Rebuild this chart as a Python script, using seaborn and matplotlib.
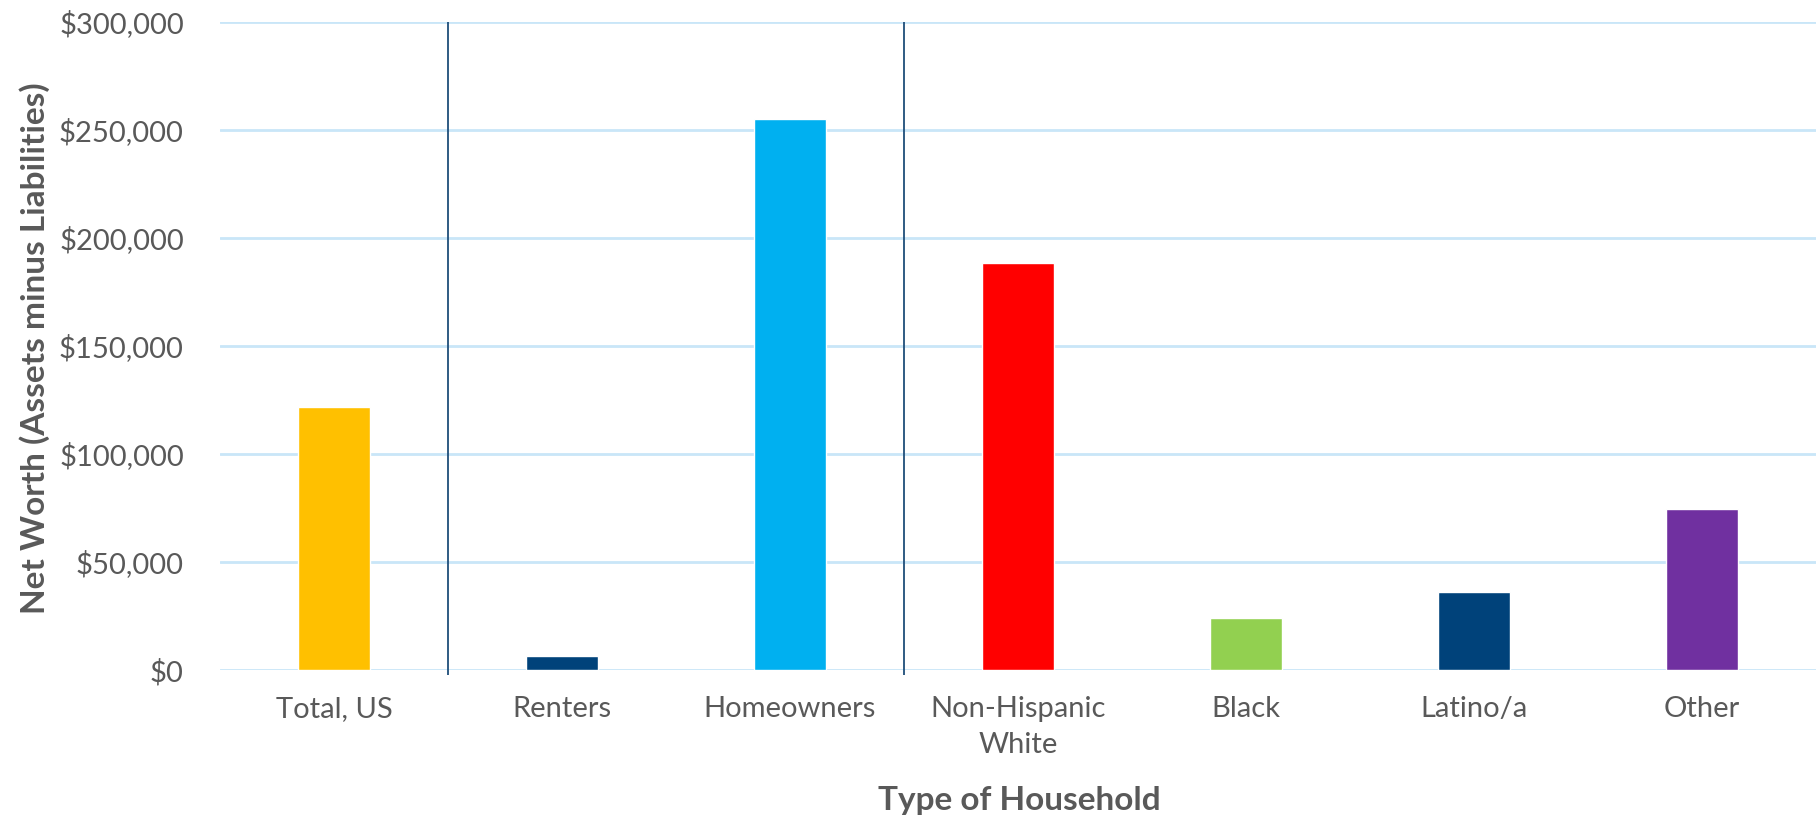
import pandas as pd
import matplotlib.pyplot as plt
import seaborn as sns
from matplotlib.ticker import FuncFormatter

# Median net worth by household type
categories = ['Total, US', 'Renters', 'Homeowners', 'Non-Hispanic\nWhite',
              'Black', 'Latino/a', 'Other']
net_worth = [121700, 6270, 255000, 188200, 24100, 36100, 74500]
bar_colors = ['#FFC000', '#00427A', '#00B0F0', '#FF0000', '#92D050', '#00427A', '#7030A0']

df = pd.DataFrame({'Household': categories, 'NetWorth': net_worth})

sns.set_theme(style="white")
plt.rcParams['font.family'] = ['Lato', 'DejaVu Sans']

text_color = '#595959'

fig = plt.figure(figsize=(18.18, 8.22), dpi=100)
ax = fig.add_axes([220 / 1818, 1 - 670 / 822, 1596 / 1818, 648 / 822])

sns.barplot(
    data=df,
    x='Household',
    y='NetWorth',
    hue='Household',
    palette=bar_colors,
    legend=False,
    width=0.316,
    saturation=1,
    ax=ax
)

ax.set_ylim(0, 300000)
ax.set_xlim(-0.5, len(categories) - 0.5)
ax.set_yticks(range(0, 300001, 50000))
ax.yaxis.set_major_formatter(FuncFormatter(lambda v, _: f'${int(v):,}'))

# light blue gridlines, no spines
ax.set_axisbelow(True)
ax.yaxis.grid(True, color='#C9E6F8', linewidth=2)
for s in ax.spines.values():
    s.set_visible(False)

# separators between group blocks
ax.vlines([0.5, 2.5], -2500, 300000, color='#1F4E79', linewidth=1.3, clip_on=False)

ax.tick_params(axis='both', length=0, labelsize=21, labelcolor=text_color)
ax.tick_params(axis='y', pad=26)
ax.tick_params(axis='x', pad=19)
for lbl in ax.get_xticklabels():
    lbl.set_linespacing(1.45)

ax.set_xlabel('Type of Household', fontsize=24, fontweight='bold', color=text_color)
ax.set_ylabel('Net Worth (Assets minus Liabilities)', fontsize=24, fontweight='bold',
              color=text_color)
ax.xaxis.set_label_coords((1019 - 220) / 1596, (670 - 800) / 648)
ax.xaxis.label.set_va('center')
ax.yaxis.set_label_coords((35 - 220) / 1596, (670 - 348) / 648)
ax.yaxis.label.set_va('center')

plt.savefig('out.png', dpi=100)
